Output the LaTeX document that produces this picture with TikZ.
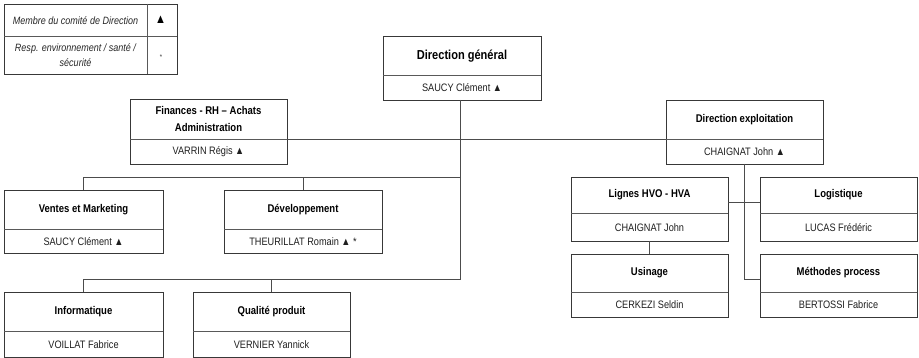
\documentclass[tikz,border=0pt]{standalone}
\usepackage{fontspec}
\setmainfont[FakeStretch=0.85]{Liberation Sans}
\begin{document}
\begin{tikzpicture}[x=1pt,y=-1pt,
  box/.style={draw=black!78,line width=0.9pt,inner sep=0pt,outer sep=0pt,fill=white},
  divline/.style={draw=black!65,line width=0.8pt},
  link/.style={draw=black!70,line width=0.8pt},
  ttl/.style={font=\fontsize{11.2}{17}\selectfont\bfseries,text=black,align=center,inner sep=0pt},
  bigttl/.style={font=\fontsize{13}{15}\selectfont\bfseries,text=black,inner sep=0pt},
  person/.style={font=\fontsize{10.8}{12}\selectfont,text=black!88,inner sep=0pt},
  legtxt/.style={font=\fontsize{10.6}{15}\selectfont\itshape,text=black!85,align=center,inner sep=0pt}]
\newcommand{\orgbox}[8]{%
  \node[box,minimum width={(#4-#2)*1pt},minimum height={(#5-#3)*1pt}] (#1) at ({(#2+#4)/2},{(#3+#5)/2}) {};
  \draw[divline] (#1.west |- 0,#6) -- (#1.east |- 0,#6);
  \node[ttl] (#1-t) at ({(#2+#4)/2},{(#3+#6)/2}) {#7};
  \node[person] (#1-p) at ({(#2+#4)/2},{(#6+#5)/2+0.5}) {#8};}
\fill[white] (0,0) rectangle (919,358);
\useasboundingbox (0,0) rectangle (919,358);
% legend
\node[box,minimum width=173pt,minimum height=70pt] (leg) at (90.5,39) {};
\draw[divline] (leg.west |- 0,36) -- (leg.east |- 0,36);
\draw[divline] (leg.north -| 147,0) -- (leg.south -| 147,0);
\node[legtxt] (leg1) at (75.5,20.5) {Membre du comité de Direction};
\node[legtxt] (leg2) at (75.5,55.5) {Resp. environnement / santé /\\sécurité};
\node[font=\fontsize{13}{13}\selectfont,inner sep=0pt] (leg1s) at (160.5,20) {▲};
\node[font=\fontsize{7}{7}\selectfont,inner sep=0pt,text=black!80] (leg2s) at (161,57) {*};
% boxes
\node[box,minimum width=158pt,minimum height=64pt] (dg) at (462,68) {};
\draw[divline] (dg.west |- 0,75) -- (dg.east |- 0,75);
\node[bigttl] (dg-t) at (462,56) {Direction général};
\node[person] (dg-p) at (462,88) {SAUCY Clément ▲};
\orgbox{fin}{130}{99}{287}{164}{139}{Finances - RH – Achats\\Administration}{VARRIN Régis ▲}
\orgbox{exp}{666}{100}{823}{164}{139}{Direction exploitation}{CHAIGNAT John ▲}
\orgbox{ven}{4}{190}{163}{253}{229}{Ventes et Marketing}{SAUCY Clément ▲}
\orgbox{dev}{224}{190}{382}{253}{229}{Développement}{THEURILLAT Romain ▲ *}
\orgbox{lig}{571}{177}{728}{241}{213}{Lignes HVO - HVA}{CHAIGNAT John}
\orgbox{log}{760}{177}{917}{241}{213}{Logistique}{LUCAS Frédéric}
\orgbox{usi}{571}{254}{728}{317}{292}{Usinage}{CERKEZI Seldin}
\orgbox{met}{760}{254}{917}{317}{292}{Méthodes process}{BERTOSSI Fabrice}
\orgbox{inf}{4}{292}{163}{357}{331}{Informatique}{VOILLAT Fabrice}
\orgbox{qua}{193}{292}{350}{357}{331}{Qualité produit}{VERNIER Yannick}
% connectors
\coordinate (dgb) at (460.5,279);
\coordinate (dgm) at (460.5,177);
\draw[link] (dg.south -| dgb) -- (dgb);
\draw[link] (fin.east |- 0,139) -- (exp.west |- 0,139);
\draw[link] (ven.north) -- (ven.north |- dgm) -- (dgm);
\draw[link] (dev.north) -- (dev.north |- dgm);
\draw[link] (inf.north) -- (inf.north |- dgb) -- (dgb);
\draw[link] (qua.north) -- (qua.north |- dgb);
\coordinate (exb) at (744.5,279);
\draw[link] (exp.south -| exb) -- (exb) -- (met.west |- exb);
\draw[link] (lig.east |- 0,202.5) -- (log.west |- 0,202.5);
\draw[link] (lig.south) -- (usi.north);
\end{tikzpicture}
\end{document}
